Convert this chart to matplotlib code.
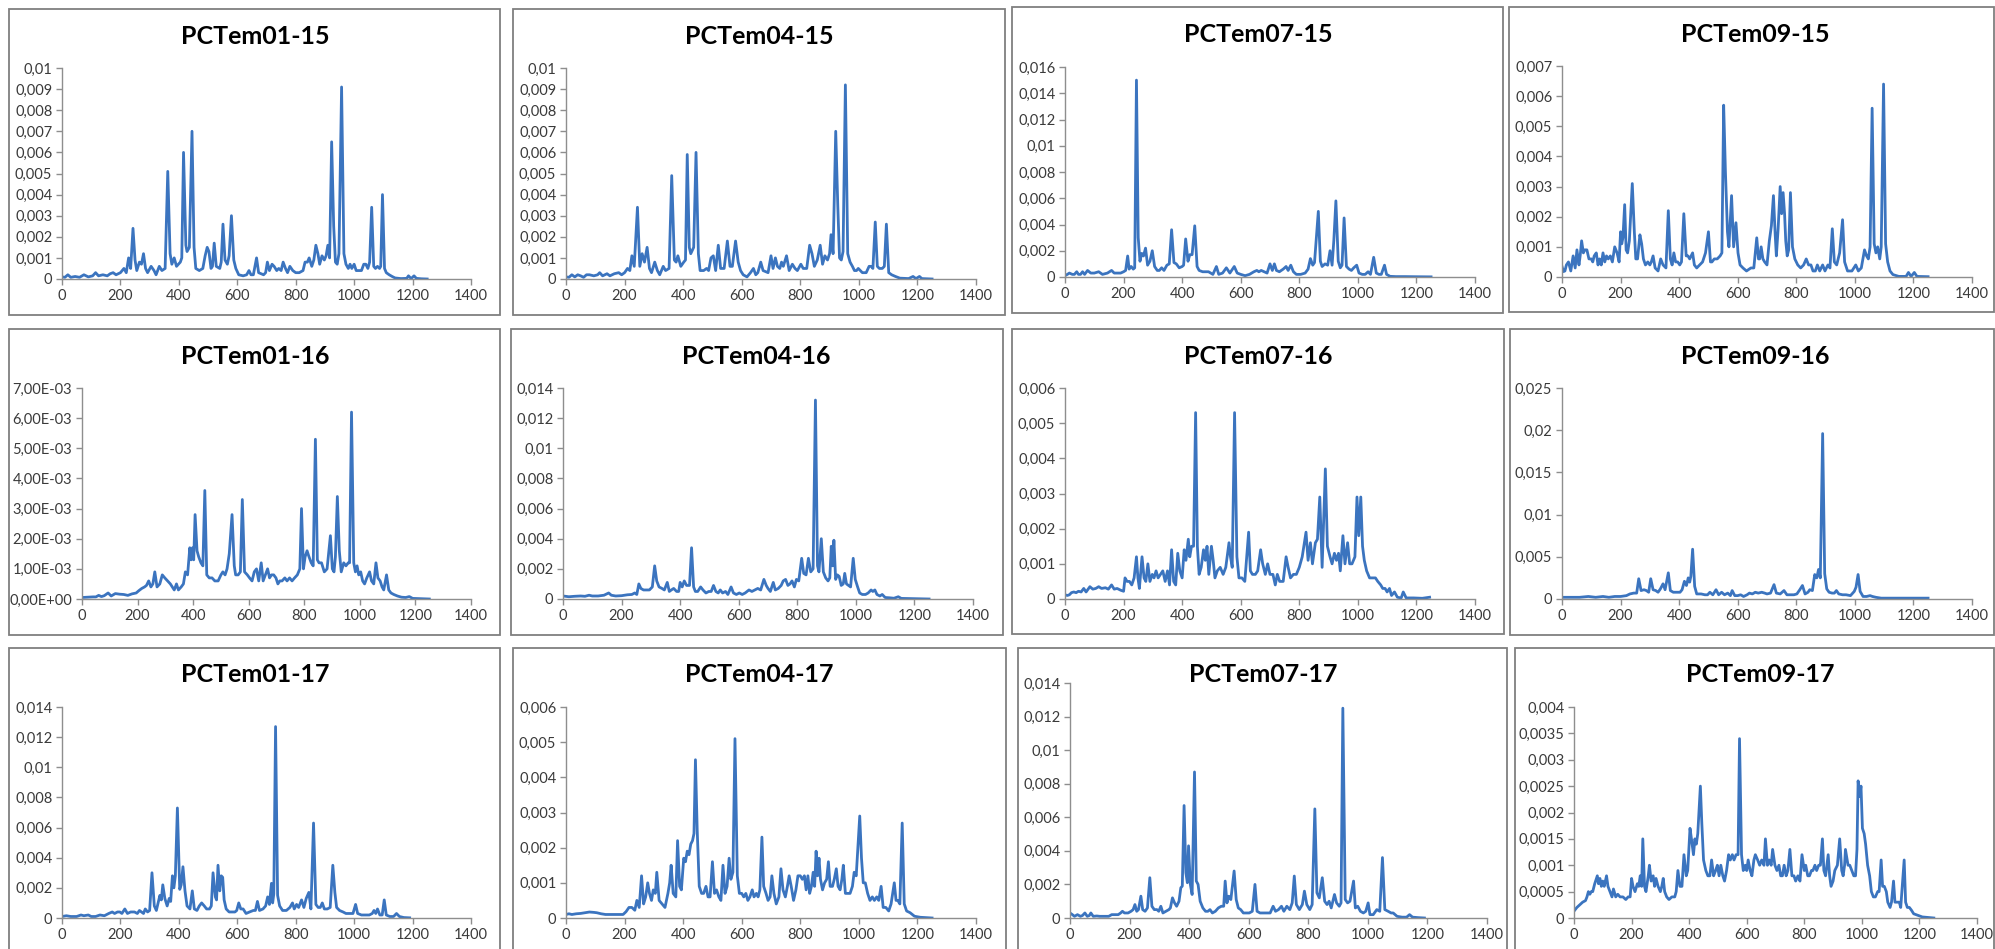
import matplotlib
matplotlib.use("Agg")
import matplotlib.pyplot as plt
from matplotlib.patches import Rectangle

# ---------------- data (x = position, y = intensity) ----------------
titles = ["PCTem01-15", "PCTem04-15", "PCTem07-15", "PCTem09-15",
          "PCTem01-16", "PCTem04-16", "PCTem07-16", "PCTem09-16",
          "PCTem01-17", "PCTem04-17", "PCTem07-17", "PCTem09-17"]

pctem01_15 = [(0,0.0001),(10,0.00008),(20,0.0002),(30,0.00008),(45,0.00012),(60,0.00008),(75,0.0002),(90,0.0001),(105,0.00015),(115,0.0003),(125,0.00015),(140,0.0002),(155,0.00015),(165,0.00025),(175,0.0003),(185,0.0002),(200,0.0003),(212,0.0005),(220,0.0003),(228,0.001),(235,0.0005),(243,0.0024),(250,0.0009),(256,0.0004),(265,0.0008),(272,0.0007),(279,0.0012),(286,0.0005),(293,0.0003),(305,0.0006),(315,0.0004),(322,0.0002),(333,0.0006),(342,0.0004),(353,0.0005),(362,0.0051),(370,0.0012),(376,0.0007),(384,0.001),(392,0.0006),(405,0.0008),(410,0.001),(416,0.006),(424,0.0016),(428,0.0013),(436,0.0015),(445,0.007),(452,0.0015),(458,0.0005),(470,0.0004),(482,0.0005),(490,0.0011),(497,0.0015),(503,0.0013),(510,0.0005),(515,0.0006),(521,0.0017),(528,0.0006),(540,0.0005),(545,0.0008),(551,0.0026),(558,0.0009),(566,0.0007),(572,0.0011),(580,0.003),(588,0.0009),(595,0.0005),(605,0.0002),(620,0.00015),(632,0.0002),(640,0.0004),(647,0.0002),(655,0.0002),(666,0.001),(673,0.0003),(690,0.0002),(697,0.0003),(703,0.0008),(710,0.0004),(719,0.0007),(726,0.0006),(735,0.0004),(742,0.0005),(750,0.0004),(757,0.0008),(765,0.0005),(772,0.0003),(780,0.0006),(790,0.0004),(800,0.0003),(812,0.0003),(825,0.0004),(832,0.0008),(840,0.0008),(846,0.001),(855,0.0006),(862,0.0009),(869,0.0016),(876,0.0012),(882,0.0007),(890,0.0011),(898,0.0009),(904,0.0011),(910,0.0016),(916,0.001),(923,0.0065),(930,0.0025),(936,0.0008),(942,0.0007),(948,0.0012),(957,0.0091),(965,0.0012),(972,0.0007),(980,0.0005),(986,0.0007),(992,0.0005),(1000,0.0007),(1007,0.0004),(1015,0.0004),(1025,0.0004),(1033,0.0007),(1040,0.0007),(1047,0.0005),(1053,0.0008),(1060,0.0034),(1067,0.0006),(1073,0.0005),(1080,0.0006),(1087,0.0005),(1091,0.0006),(1097,0.004),(1104,0.0005),(1110,0.0003),(1120,0.0002),(1130,0.00012),(1140,0.00005),(1160,0.00002),(1180,0.00003),(1186,0.00015),(1195,0.00002),(1205,0.00015),(1213,0.00003),(1230,0.00001),(1250,0.0)]

pctem04_15 = [(0,0.0001),(10,0.00008),(20,0.0002),(30,0.0001),(40,0.0002),(50,0.00015),(60,0.00008),(70,0.0002),(80,0.0002),(95,0.00015),(108,0.0002),(115,0.0003),(125,0.00015),(140,0.00025),(150,0.00015),(165,0.00025),(180,0.0003),(190,0.0002),(200,0.0003),(210,0.0005),(218,0.0004),(225,0.0011),(233,0.0006),(244,0.0034),(252,0.0006),(260,0.0012),(268,0.0008),(277,0.0015),(285,0.0005),(292,0.0003),(303,0.0008),(312,0.0004),(320,0.0002),(332,0.0006),(340,0.0004),(352,0.0005),(361,0.0049),(370,0.0009),(376,0.0008),(382,0.0011),(392,0.0006),(402,0.0008),(408,0.0009),(414,0.0059),(421,0.0015),(426,0.0012),(436,0.0015),(444,0.006),(452,0.0012),(458,0.0004),(470,0.0004),(480,0.0005),(487,0.0004),(495,0.001),(503,0.0011),(511,0.0004),(520,0.0016),(528,0.0005),(540,0.0005),(551,0.0018),(560,0.0006),(568,0.0006),(579,0.0018),(588,0.0008),(596,0.0004),(605,0.0002),(618,0.0001),(630,0.0003),(640,0.0005),(648,0.0002),(655,0.0003),(665,0.0008),(673,0.0004),(690,0.0003),(700,0.0011),(707,0.0005),(715,0.001),(722,0.0006),(730,0.0005),(736,0.0008),(742,0.0006),(753,0.0011),(762,0.0004),(773,0.0007),(782,0.0005),(790,0.0004),(802,0.0007),(810,0.0005),(822,0.0005),(832,0.0016),(840,0.0012),(848,0.0006),(858,0.0009),(868,0.0016),(876,0.0007),(884,0.0011),(893,0.0009),(900,0.0012),(905,0.0021),(912,0.0012),(921,0.007),(928,0.0035),(934,0.001),(940,0.0009),(946,0.0013),(954,0.0092),(962,0.0012),(970,0.0008),(978,0.0006),(985,0.0004),(992,0.0004),(998,0.0005),(1005,0.0004),(1012,0.0003),(1025,0.0003),(1035,0.0006),(1042,0.0006),(1048,0.0005),(1056,0.0027),(1063,0.0006),(1070,0.0005),(1080,0.0005),(1087,0.0006),(1094,0.0026),(1102,0.0003),(1112,0.0002),(1125,0.00012),(1140,0.00004),(1170,0.00002),(1185,0.00012),(1195,0.00002),(1207,0.00012),(1215,0.00002),(1250,0.0)]

pctem07_15 = [(0,0.0001),(8,0.0002),(15,0.0003),(25,0.0002),(32,0.0002),(40,0.0004),(46,0.0002),(53,0.0002),(60,0.0004),(67,0.0002),(77,0.0005),(88,0.0003),(100,0.0003),(115,0.0004),(128,0.0002),(145,0.0003),(159,0.0005),(168,0.0003),(180,0.0003),(190,0.0003),(200,0.0004),(207,0.0005),(214,0.0016),(219,0.0006),(226,0.0008),(233,0.0006),(238,0.0007),(244,0.015),(250,0.003),(256,0.0012),(262,0.0018),(268,0.0016),(275,0.0022),(282,0.0009),(290,0.0012),(298,0.002),(306,0.0008),(315,0.0005),(322,0.0005),(330,0.0007),(338,0.0005),(348,0.0009),(356,0.001),(364,0.0036),(372,0.0011),(380,0.001),(390,0.0007),(400,0.0008),(405,0.0009),(412,0.0029),(420,0.0012),(426,0.0017),(434,0.0017),(443,0.0039),(451,0.0008),(458,0.0005),(470,0.0004),(480,0.0004),(490,0.0004),(505,0.0002),(517,0.0008),(525,0.0002),(538,0.0003),(551,0.0007),(563,0.0003),(578,0.0008),(588,0.0003),(600,0.0002),(615,0.0001),(630,0.0002),(645,0.0004),(655,0.0005),(662,0.0004),(670,0.0005),(680,0.0004),(690,0.0003),(700,0.001),(708,0.0005),(715,0.001),(722,0.0005),(732,0.0004),(745,0.0006),(755,0.0008),(762,0.0005),(771,0.0009),(780,0.0004),(790,0.0002),(805,0.0002),(820,0.0003),(830,0.0006),(838,0.0014),(846,0.0009),(852,0.0011),(865,0.005),(872,0.0012),(878,0.0008),(888,0.001),(897,0.0009),(905,0.002),(912,0.0009),(918,0.0028),(925,0.0058),(933,0.0012),(940,0.0007),(946,0.0009),(953,0.0045),(961,0.0008),(970,0.0006),(978,0.0005),(986,0.0007),(996,0.0009),(1004,0.0003),(1015,0.0002),(1025,0.0002),(1035,0.0004),(1043,0.0002),(1054,0.0015),(1063,0.0003),(1072,0.0002),(1080,0.0002),(1091,0.0009),(1098,0.0002),(1110,0.00005),(1130,0.00003),(1160,0.00003),(1200,0.00002),(1250,0.00001)]

pctem09_15 = [(0,0.00035),(5,0.00018),(10,0.0002),(15,0.0004),(22,0.0005),(30,0.0002),(38,0.0007),(45,0.0003),(51,0.0009),(58,0.0004),(62,0.0007),(67,0.0012),(73,0.0008),(78,0.0009),(85,0.0009),(92,0.0006),(100,0.0006),(105,0.0005),(110,0.0007),(117,0.0008),(123,0.0004),(128,0.0006),(134,0.0004),(140,0.0008),(146,0.0005),(152,0.0007),(158,0.0006),(165,0.0007),(172,0.0005),(180,0.001),(188,0.0008),(195,0.0005),(200,0.0015),(204,0.0011),(208,0.0013),(214,0.0024),(219,0.0009),(224,0.0008),(230,0.0012),(240,0.0031),(247,0.0015),(252,0.0006),(258,0.0006),(266,0.0014),(272,0.0011),(278,0.0006),(285,0.0004),(293,0.0005),(300,0.0004),(305,0.0005),(311,0.0007),(318,0.0003),(328,0.0002),(337,0.0006),(345,0.0004),(355,0.0003),(363,0.0022),(370,0.0006),(376,0.0004),(382,0.0008),(388,0.0005),(395,0.0005),(402,0.0004),(408,0.0005),(416,0.0021),(424,0.0007),(430,0.0007),(436,0.0006),(446,0.0008),(452,0.0004),(460,0.0003),(470,0.0004),(480,0.0005),(490,0.0008),(500,0.0015),(507,0.0005),(512,0.0005),(520,0.0006),(530,0.0006),(540,0.0007),(546,0.0008),(552,0.0057),(558,0.0035),(565,0.0015),(570,0.001),(579,0.0027),(586,0.001),(594,0.0018),(601,0.0008),(608,0.0004),(618,0.0003),(630,0.0002),(645,0.0003),(655,0.0003),(665,0.0013),(671,0.0006),(675,0.0006),(680,0.001),(686,0.0006),(692,0.0005),(700,0.0004),(708,0.0012),(715,0.0017),(722,0.0027),(728,0.0014),(732,0.0007),(738,0.0016),(745,0.003),(750,0.0021),(755,0.0028),(760,0.0021),(764,0.0012),(769,0.0007),(774,0.0009),(780,0.0028),(787,0.001),(795,0.0006),(805,0.0004),(815,0.0003),(825,0.0004),(834,0.0006),(842,0.0004),(850,0.0004),(857,0.0002),(865,0.0002),(872,0.0004),(880,0.0002),(890,0.0004),(898,0.0002),(908,0.0004),(915,0.0003),(923,0.0016),(930,0.0005),(938,0.0004),(948,0.0008),(958,0.0019),(965,0.0005),(975,0.0002),(990,0.0002),(1003,0.0004),(1012,0.0002),(1022,0.0003),(1033,0.0009),(1040,0.0007),(1046,0.0006),(1052,0.001),(1059,0.0056),(1066,0.0011),(1072,0.0008),(1078,0.001),(1085,0.0006),(1090,0.001),(1098,0.0064),(1105,0.0011),(1112,0.0005),(1120,0.0002),(1130,0.00008),(1150,0.00002),(1175,0.00002),(1183,0.00015),(1192,0.00002),(1203,0.00015),(1212,0.00002),(1250,0.00001)]

pctem01_16 = [(0,0.00005),(20,0.00006),(40,0.00007),(50,0.00007),(60,0.00012),(70,0.00008),(80,0.00011),(94,0.0002),(105,0.0001),(120,0.00018),(135,0.00016),(150,0.00015),(165,0.00012),(180,0.00017),(195,0.0002),(205,0.00028),(215,0.00035),(225,0.0004),(232,0.00045),(240,0.0006),(248,0.0004),(255,0.0005),(262,0.0009),(270,0.0004),(280,0.0005),(289,0.0008),(298,0.0007),(308,0.0006),(318,0.0005),(325,0.0004),(332,0.0003),(340,0.0005),(347,0.0003),(357,0.0004),(365,0.0005),(372,0.0009),(380,0.0008),(388,0.0017),(393,0.0013),(398,0.0017),(402,0.0013),(407,0.0028),(414,0.0016),(420,0.0014),(428,0.0012),(435,0.0011),(442,0.0036),(449,0.0008),(458,0.0007),(468,0.0007),(478,0.0006),(490,0.0006),(500,0.0008),(507,0.0009),(515,0.0008),(522,0.001),(530,0.0015),(540,0.0028),(548,0.0011),(553,0.0008),(562,0.0008),(570,0.0009),(577,0.0033),(585,0.0009),(595,0.0008),(603,0.0007),(612,0.0006),(620,0.0009),(628,0.001),(636,0.0006),(645,0.0012),(652,0.0006),(660,0.0008),(668,0.001),(675,0.0007),(682,0.0008),(690,0.0008),(698,0.0007),(705,0.0005),(712,0.0006),(720,0.0006),(730,0.0007),(738,0.0006),(747,0.0007),(756,0.0006),(765,0.0007),(775,0.0008),(784,0.001),(790,0.003),(797,0.001),(803,0.0014),(810,0.0016),(817,0.0014),(825,0.0012),(832,0.0011),(840,0.0053),(847,0.0013),(853,0.0012),(862,0.0012),(872,0.0009),(882,0.001),(894,0.0021),(901,0.001),(907,0.0009),(912,0.0014),(919,0.0034),(926,0.0016),(933,0.0009),(942,0.0012),(950,0.0011),(958,0.0012),(963,0.0012),(970,0.0062),(978,0.0012),(984,0.0009),(990,0.0011),(996,0.0008),(1003,0.0009),(1010,0.0006),(1017,0.0005),(1025,0.0007),(1035,0.0009),(1042,0.0006),(1050,0.0005),(1058,0.0012),(1065,0.0007),(1073,0.0006),(1080,0.0004),(1086,0.0003),(1096,0.0008),(1104,0.0003),(1112,0.0002),(1122,0.00015),(1135,0.0001),(1150,0.00006),(1165,0.00005),(1178,0.00008),(1190,0.00002),(1220,0.00001),(1250,0.0)]

pctem04_16 = [(0,0.0002),(20,0.00015),(40,0.00018),(60,0.0002),(75,0.00018),(89,0.00025),(100,0.0002),(120,0.0002),(140,0.00025),(156,0.0004),(165,0.00025),(180,0.0002),(200,0.00022),(220,0.00028),(235,0.0003),(245,0.0004),(252,0.0003),(259,0.001),(266,0.0007),(275,0.0006),(285,0.0006),(295,0.0006),(305,0.0008),(313,0.0022),(320,0.0012),(328,0.0008),(338,0.0007),(346,0.0006),(356,0.0011),(363,0.0005),(370,0.0006),(378,0.0007),(388,0.0005),(395,0.0005),(400,0.0011),(407,0.0008),(414,0.0012),(422,0.0009),(432,0.0009),(439,0.0034),(446,0.0008),(452,0.0005),(460,0.0005),(470,0.0008),(478,0.0006),(488,0.0004),(498,0.0005),(506,0.0005),(514,0.0009),(522,0.0005),(530,0.0004),(537,0.0006),(545,0.0004),(555,0.0005),(563,0.0003),(574,0.0008),(582,0.0004),(592,0.0003),(602,0.0004),(612,0.0003),(622,0.0004),(635,0.0006),(645,0.0005),(655,0.0006),(665,0.0007),(675,0.0006),(686,0.0013),(694,0.0009),(700,0.0007),(708,0.0005),(718,0.0011),(725,0.0006),(735,0.0007),(745,0.0009),(752,0.0012),(760,0.0013),(768,0.0009),(775,0.001),(782,0.0012),(790,0.0008),(797,0.0013),(805,0.0012),(815,0.0027),(822,0.0017),(830,0.0016),(838,0.0027),(846,0.0018),(854,0.002),(862,0.0132),(869,0.0022),(874,0.0018),(882,0.004),(889,0.0018),(897,0.0014),(905,0.0012),(911,0.0014),(916,0.0035),(921,0.0022),(925,0.0039),(931,0.0013),(937,0.0016),(943,0.0015),(950,0.0009),(957,0.001),(962,0.0017),(968,0.001),(975,0.0009),(982,0.0008),(991,0.0027),(998,0.0013),(1006,0.0008),(1013,0.0004),(1022,0.0003),(1033,0.0003),(1042,0.0004),(1052,0.0006),(1058,0.0005),(1065,0.0006),(1072,0.0003),(1082,0.0002),(1090,0.0003),(1100,0.0001),(1115,0.00008),(1130,0.00005),(1145,0.00015),(1155,0.00004),(1180,0.00003),(1210,0.00002),(1250,0.0)]

pctem07_16 = [(0,0.00012),(8,0.0001),(15,0.00012),(22,0.00018),(30,0.0002),(38,0.00018),(46,0.00022),(55,0.0002),(64,0.0003),(72,0.0002),(85,0.00035),(95,0.00028),(105,0.0003),(115,0.00035),(125,0.0003),(138,0.00032),(148,0.00028),(159,0.0004),(168,0.00028),(178,0.0003),(190,0.00025),(200,0.00022),(205,0.0006),(212,0.0005),(220,0.0005),(228,0.0004),(236,0.0006),(244,0.0012),(249,0.0006),(254,0.0003),(263,0.0012),(270,0.0006),(276,0.0005),(283,0.001),(290,0.0005),(298,0.0007),(304,0.0006),(311,0.0008),(318,0.0006),(326,0.0007),(334,0.0008),(342,0.0005),(350,0.0008),(357,0.0004),(364,0.0014),(371,0.0005),(378,0.0004),(385,0.0013),(392,0.0008),(400,0.0006),(407,0.0014),(413,0.0011),(421,0.0017),(426,0.0012),(432,0.0015),(439,0.0015),(446,0.0053),(452,0.0015),(458,0.0007),(465,0.0009),(473,0.0014),(479,0.0011),(485,0.0015),(491,0.0007),(500,0.0015),(506,0.0011),(512,0.0006),(520,0.0008),(530,0.0009),(540,0.0007),(549,0.0009),(560,0.0016),(565,0.0012),(571,0.0009),(579,0.0053),(587,0.0012),(594,0.0006),(604,0.0006),(614,0.0005),(627,0.0019),(633,0.0008),(640,0.0007),(650,0.0007),(658,0.0008),(668,0.0014),(675,0.001),(684,0.0007),(692,0.001),(700,0.0007),(710,0.0007),(718,0.0004),(725,0.0007),(733,0.0005),(745,0.0005),(755,0.0012),(762,0.0009),(770,0.0006),(780,0.0007),(790,0.0007),(800,0.0009),(810,0.0012),(823,0.0019),(830,0.0011),(838,0.0016),(845,0.001),(855,0.0016),(862,0.0017),(870,0.0029),(878,0.0009),(889,0.0037),(896,0.0015),(905,0.0012),(912,0.001),(920,0.0013),(927,0.0011),(934,0.0013),(940,0.0008),(949,0.0018),(956,0.001),(965,0.0016),(972,0.001),(980,0.001),(990,0.0012),(997,0.0029),(1003,0.0018),(1010,0.0029),(1016,0.0015),(1022,0.0011),(1030,0.0008),(1040,0.0006),(1050,0.0006),(1060,0.0006),(1068,0.0005),(1078,0.0004),(1085,0.0003),(1093,0.0003),(1100,0.0002),(1108,0.0003),(1115,0.0001),(1125,0.0002),(1135,0.00005),(1148,0.00003),(1155,0.0002),(1165,0.00003),(1190,0.00003),(1220,0.00002),(1245,0.00005)]

pctem09_16 = [(0,0.0002),(30,0.0002),(60,0.0002),(90,0.0003),(115,0.0002),(140,0.0003),(160,0.0002),(180,0.0003),(200,0.0003),(220,0.0004),(232,0.0006),(245,0.0007),(255,0.0007),(262,0.0024),(270,0.001),(280,0.0011),(288,0.001),(296,0.0008),(303,0.0024),(311,0.0011),(320,0.001),(328,0.0008),(336,0.0012),(345,0.0018),(352,0.0011),(363,0.0031),(370,0.001),(380,0.0008),(392,0.0008),(403,0.0008),(410,0.0011),(418,0.0021),(425,0.0016),(431,0.0025),(436,0.002),(440,0.0027),(446,0.0059),(453,0.0015),(460,0.0006),(475,0.0006),(488,0.0005),(497,0.0005),(505,0.0008),(515,0.0005),(526,0.0011),(535,0.0005),(545,0.0008),(555,0.0005),(566,0.0007),(575,0.0004),(581,0.001),(590,0.0004),(600,0.0004),(610,0.0005),(620,0.0003),(632,0.0005),(640,0.0007),(650,0.0006),(660,0.0008),(670,0.0007),(682,0.0008),(692,0.0007),(700,0.0006),(712,0.0007),(724,0.0017),(732,0.0007),(745,0.0006),(758,0.001),(768,0.0005),(780,0.0005),(792,0.0005),(802,0.0006),(812,0.0011),(821,0.0016),(830,0.0006),(840,0.0008),(846,0.0011),(855,0.001),(863,0.0029),(870,0.0025),(876,0.0035),(882,0.0025),(890,0.0196),(897,0.003),(904,0.0012),(912,0.0008),(922,0.0007),(930,0.0007),(937,0.001),(945,0.0006),(958,0.0005),(970,0.0005),(985,0.0004),(998,0.0009),(1004,0.0014),(1011,0.0029),(1018,0.0009),(1028,0.0003),(1040,0.0003),(1052,0.0004),(1060,0.0003),(1072,0.0002),(1090,0.0001),(1120,0.0001),(1160,0.0001),(1200,0.0001),(1250,0.0001)]

pctem01_17 = [(0,0.0001),(15,0.00015),(30,0.0001),(50,0.0001),(65,0.0002),(75,0.00015),(90,0.0002),(100,0.0001),(115,0.0001),(130,0.0002),(145,0.00015),(160,0.0003),(172,0.0004),(180,0.0003),(190,0.0004),(198,0.0004),(205,0.0003),(215,0.0006),(224,0.0003),(235,0.0004),(248,0.0004),(258,0.0003),(265,0.0005),(272,0.0004),(279,0.0003),(285,0.0006),(293,0.0004),(300,0.0005),(308,0.003),(316,0.0008),(323,0.0005),(330,0.0011),(335,0.0015),(340,0.0012),(345,0.0022),(352,0.0013),(360,0.0008),(367,0.0013),(372,0.0011),(378,0.0028),(383,0.002),(388,0.0028),(395,0.0073),(403,0.0019),(408,0.0022),(414,0.0034),(421,0.0018),(428,0.0008),(438,0.0006),(446,0.0018),(453,0.0006),(462,0.0005),(470,0.0008),(478,0.001),(487,0.0008),(495,0.0006),(505,0.0006),(511,0.0008),(517,0.003),(525,0.0014),(529,0.0012),(534,0.0035),(540,0.0018),(545,0.0028),(550,0.0027),(555,0.0012),(562,0.0006),(572,0.0004),(582,0.0004),(592,0.0004),(598,0.0005),(605,0.001),(612,0.0006),(620,0.0006),(630,0.0003),(642,0.0004),(655,0.0005),(662,0.0005),(669,0.0011),(676,0.0005),(688,0.0006),(697,0.0008),(704,0.0014),(710,0.0009),(717,0.0023),(721,0.001),(725,0.0016),(731,0.0127),(738,0.0015),(745,0.0008),(755,0.0005),(768,0.0005),(780,0.0007),(789,0.001),(795,0.0006),(803,0.0009),(810,0.0007),(820,0.0012),(828,0.0007),(836,0.0013),(845,0.0017),(852,0.0006),(861,0.0063),(869,0.0009),(877,0.0007),(884,0.0007),(891,0.001),(898,0.0006),(908,0.0006),(918,0.0007),(927,0.0035),(934,0.0017),(940,0.0007),(950,0.0005),(962,0.0004),(972,0.0003),(985,0.0003),(996,0.0003),(1005,0.0009),(1012,0.0003),(1025,0.0002),(1040,0.0002),(1052,0.0002),(1062,0.0003),(1068,0.0005),(1074,0.0003),(1080,0.0006),(1088,0.0002),(1096,0.0002),(1103,0.0012),(1110,0.0002),(1122,0.0001),(1135,0.0001),(1145,0.0003),(1155,0.0001),(1170,0.00003),(1190,0.00001)]

pctem04_17 = [(0,0.0001),(10,0.00012),(20,0.0001),(35,0.00012),(50,0.00013),(65,0.00015),(80,0.00017),(95,0.00016),(105,0.00015),(120,0.00012),(135,0.0001),(150,0.0001),(165,0.0001),(180,0.0001),(195,0.0001),(205,0.00018),(215,0.0003),(225,0.0003),(235,0.00022),(242,0.0005),(250,0.0003),(258,0.0012),(265,0.0004),(272,0.0006),(279,0.001),(285,0.0007),(292,0.0005),(298,0.0008),(305,0.0007),(310,0.0013),(318,0.0005),(328,0.0004),(338,0.0003),(348,0.0007),(354,0.001),(359,0.0015),(366,0.0007),(375,0.0006),(381,0.0022),(388,0.0009),(394,0.0008),(402,0.0017),(408,0.0016),(414,0.0019),(420,0.0018),(426,0.0021),(432,0.0022),(437,0.0024),(442,0.0045),(448,0.0025),(455,0.0009),(463,0.0007),(470,0.0007),(478,0.0009),(485,0.0006),(492,0.0006),(500,0.0016),(507,0.0007),(514,0.0008),(522,0.0006),(529,0.0005),(536,0.0015),(543,0.0007),(550,0.0009),(557,0.0017),(563,0.0011),(570,0.0013),(577,0.0051),(585,0.0012),(592,0.0007),(600,0.0007),(607,0.0006),(614,0.0007),(621,0.0005),(628,0.0006),(636,0.0008),(642,0.0006),(650,0.0007),(656,0.0006),(662,0.0008),(669,0.0023),(675,0.0009),(683,0.0007),(690,0.0005),(697,0.0006),(703,0.0012),(710,0.0007),(718,0.0004),(727,0.0006),(734,0.0014),(741,0.0008),(749,0.0006),(756,0.0009),(762,0.0012),(769,0.0009),(777,0.0005),(785,0.0008),(792,0.0012),(800,0.0012),(807,0.0011),(814,0.0012),(820,0.0008),(826,0.0012),(832,0.0007),(838,0.0009),(844,0.0013),(849,0.0009),(854,0.0019),(859,0.0012),(864,0.0017),(869,0.0011),(876,0.0008),(883,0.001),(890,0.0011),(896,0.0016),(902,0.0009),(910,0.0009),(916,0.0011),(923,0.0014),(929,0.0009),(936,0.0008),(942,0.0011),(947,0.0015),(954,0.0007),(962,0.0007),(970,0.0007),(978,0.0009),(984,0.0013),(991,0.0012),(1003,0.0029),(1009,0.0017),(1015,0.001),(1022,0.001),(1030,0.0007),(1038,0.0005),(1046,0.0006),(1053,0.0005),(1061,0.0006),(1068,0.0005),(1076,0.0009),(1083,0.0003),(1092,0.0003),(1102,0.0002),(1110,0.0004),(1121,0.001),(1127,0.0005),(1133,0.0005),(1140,0.0004),(1148,0.0027),(1155,0.0004),(1163,0.0002),(1175,0.00015),(1190,0.00005),(1210,0.00002),(1250,0.0)]

pctem07_17 = [(0,0.0003),(8,0.0002),(15,0.0001),(25,0.0002),(35,0.0001),(42,0.00015),(50,0.0003),(58,0.0001),(65,0.00015),(70,0.0003),(78,0.0001),(90,0.00012),(100,0.0001),(115,0.0001),(130,0.0001),(140,0.0002),(152,0.0002),(162,0.0002),(170,0.0003),(176,0.0004),(183,0.0003),(195,0.0003),(205,0.0004),(212,0.0005),(218,0.0008),(224,0.0004),(230,0.0005),(238,0.0013),(244,0.0005),(252,0.0004),(260,0.0006),(268,0.0024),(275,0.0007),(283,0.0005),(292,0.0005),(298,0.0004),(305,0.0007),(312,0.0003),(322,0.0004),(332,0.0005),(337,0.0006),(344,0.0012),(351,0.0009),(358,0.0007),(366,0.001),(372,0.0018),(377,0.0019),(383,0.0067),(389,0.0027),(394,0.0021),(398,0.0043),(404,0.002),(410,0.0014),(418,0.0087),(424,0.0022),(430,0.002),(437,0.001),(446,0.0006),(455,0.0004),(463,0.0004),(470,0.0005),(478,0.0003),(488,0.0004),(498,0.0006),(508,0.0007),(516,0.0007),(521,0.0022),(527,0.0009),(533,0.0013),(540,0.0011),(551,0.0028),(558,0.0011),(565,0.0006),(573,0.0005),(582,0.0003),(592,0.0003),(602,0.0003),(612,0.0004),(621,0.002),(628,0.0004),(638,0.0003),(650,0.0003),(662,0.0003),(672,0.0003),(682,0.0007),(690,0.0004),(700,0.0005),(710,0.0007),(718,0.0004),(728,0.0007),(738,0.0005),(746,0.0009),(753,0.0025),(760,0.0008),(770,0.0005),(780,0.0008),(787,0.0016),(795,0.0008),(805,0.0005),(813,0.0008),(822,0.0065),(829,0.0015),(837,0.0012),(842,0.0018),(847,0.0024),(855,0.001),(863,0.0008),(870,0.001),(877,0.0006),(888,0.0014),(895,0.0009),(904,0.0007),(910,0.0009),(916,0.0125),(924,0.0011),(932,0.0009),(940,0.001),(952,0.0022),(958,0.0006),(966,0.0007),(975,0.0004),(985,0.0003),(993,0.0004),(1001,0.0009),(1007,0.0002),(1018,0.0002),(1030,0.0005),(1040,0.0004),(1049,0.0036),(1057,0.0005),(1068,0.0004),(1078,0.0003),(1085,0.0003),(1098,0.0001),(1115,0.00005),(1130,0.00005),(1140,0.0002),(1150,0.00005),(1170,0.00002),(1190,0.0)]

pctem09_17 = [(0,0.00013),(10,0.0002),(20,0.00025),(30,0.0003),(40,0.00033),(45,0.0004),(50,0.0005),(55,0.00045),(60,0.0005),(65,0.0005),(72,0.00065),(81,0.0008),(85,0.00065),(90,0.00075),(95,0.0006),(100,0.0007),(105,0.0006),(113,0.0008),(118,0.0006),(125,0.0005),(132,0.0004),(137,0.00055),(145,0.0004),(152,0.00045),(160,0.0004),(170,0.0004),(180,0.00035),(188,0.0004),(195,0.0004),(200,0.00075),(205,0.0006),(212,0.0005),(220,0.00065),(225,0.0006),(230,0.0008),(235,0.0006),(239,0.0015),(245,0.0006),(250,0.0005),(258,0.0008),(262,0.001),(268,0.0007),(275,0.0008),(280,0.0006),(285,0.00075),(292,0.0006),(300,0.0005),(305,0.0006),(310,0.00075),(315,0.0005),(322,0.0004),(330,0.00035),(340,0.0004),(350,0.0004),(355,0.0005),(361,0.0009),(368,0.0006),(375,0.0006),(382,0.0012),(390,0.0008),(395,0.0009),(403,0.0017),(408,0.0015),(415,0.0012),(420,0.0015),(425,0.0014),(430,0.0016),(439,0.0025),(444,0.0018),(450,0.0011),(458,0.0009),(465,0.0008),(472,0.0008),(478,0.0011),(485,0.0008),(492,0.0009),(498,0.001),(504,0.0008),(510,0.001),(517,0.0008),(523,0.0007),(530,0.0009),(537,0.0012),(543,0.0011),(550,0.0012),(556,0.0011),(563,0.0012),(570,0.0012),(575,0.0034),(582,0.0012),(588,0.0009),(595,0.001),(600,0.0009),(605,0.0011),(612,0.0009),(618,0.0008),(625,0.0011),(630,0.0012),(638,0.0011),(645,0.001),(652,0.0011),(660,0.001),(665,0.0015),(672,0.001),(678,0.0011),(685,0.001),(690,0.0013),(698,0.001),(705,0.0009),(712,0.001),(718,0.0008),(724,0.0008),(730,0.001),(737,0.0008),(743,0.0009),(750,0.0013),(757,0.0008),(764,0.0008),(770,0.0007),(778,0.0008),(785,0.0007),(792,0.0012),(800,0.0009),(805,0.001),(812,0.0008),(818,0.0008),(825,0.0009),(830,0.0009),(837,0.001),(843,0.0009),(850,0.001),(856,0.001),(863,0.0015),(868,0.0009),(874,0.0008),(883,0.0012),(888,0.0008),(893,0.0006),(900,0.0007),(906,0.0009),(915,0.001),(923,0.0015),(930,0.0009),(935,0.0008),(940,0.001),(943,0.0013),(952,0.001),(958,0.001),(965,0.0009),(972,0.0008),(978,0.0008),(983,0.0013),(987,0.0026),(992,0.0023),(997,0.0025),(1002,0.0017),(1008,0.0016),(1013,0.0014),(1020,0.001),(1027,0.0008),(1033,0.0005),(1040,0.0004),(1047,0.0004),(1055,0.0005),(1060,0.0005),(1067,0.0011),(1072,0.0006),(1078,0.0006),(1085,0.0005),(1090,0.0003),(1098,0.0002),(1103,0.0003),(1110,0.0007),(1115,0.0003),(1122,0.0003),(1130,0.0003),(1135,0.0002),(1147,0.0011),(1152,0.0003),(1158,0.0002),(1165,0.0002),(1172,0.00015),(1180,0.00008),(1195,0.00005),(1210,0.00002),(1250,0.0)]

series = [pctem01_15, pctem04_15, pctem07_15, pctem09_15,
          pctem01_16, pctem04_16, pctem07_16, pctem09_16,
          pctem01_17, pctem04_17, pctem07_17, pctem09_17]

y_max = [0.01, 0.01, 0.016, 0.007, 0.007, 0.014, 0.006, 0.025, 0.014, 0.006, 0.014, 0.004]
y_step = [0.001, 0.001, 0.002, 0.001, 0.001, 0.002, 0.001, 0.005, 0.002, 0.001, 0.002, 0.0005]
sci_format = [False, False, False, False, True, False, False, False, False, False, False, False]
x_ticks = [0, 200, 400, 600, 800, 1000, 1200, 1400]

# ---------------- layout (pixel geometry of the 1995x949 image) ----------------
W, H = 1995, 949
plot_px = [(62, 471, 279, 68), (566, 976, 279, 68), (1065, 1475, 277, 67), (1562, 1972, 277, 66),
           (82, 471, 599, 388), (563, 973, 599, 388), (1065, 1475, 599, 388), (1562, 1972, 599, 388),
           (62, 471, 918, 707), (566, 976, 918, 707), (1070, 1487, 918, 683), (1574, 1977, 918, 707)]
title_px = [(255, 36), (759, 36), (1258, 35), (1755, 35),
            (255, 356), (756, 356), (1258, 356), (1755, 356),
            (255, 675), (759, 675), (1263, 675), (1760, 675)]
box_px = [(9, 9, 500, 315), (513, 9, 1005, 315), (1012, 7, 1503, 313), (1509, 7, 1994, 312),
          (9, 329, 500, 635), (511, 329, 1003, 635), (1012, 329, 1504, 634), (1510, 329, 1994, 635),
          (9, 648, 500, 980), (513, 648, 1006, 980), (1018, 648, 1507, 980), (1515, 648, 1994, 980)]

LINE = "#3B74BF"
AXC = "#8E8E8E"
TXT = "#3a3a3a"
plt.rcParams['font.family'] = ['Lato', 'DejaVu Sans']

fig = plt.figure(figsize=(W / 100, H / 100), dpi=100)
fig.patch.set_facecolor("white")

for i in range(12):
    bx0, by0, bx1, by1 = box_px[i]
    fig.patches.append(Rectangle((bx0 / W, 1 - by1 / H), (bx1 - bx0) / W, (by1 - by0) / H,
                                 transform=fig.transFigure, fill=False,
                                 edgecolor="#7f7f7f", linewidth=1.3, zorder=0))

    x0, x1, yb, yt = plot_px[i]
    ax = fig.add_axes([x0 / W, 1 - yb / H, (x1 - x0) / W, (yb - yt) / H])
    xs = [p[0] for p in series[i]]
    ys = [p[1] for p in series[i]]
    ax.plot(xs, ys, color=LINE, linewidth=2.0, solid_joinstyle='round')
    ax.set_xlim(0, 1400)
    ax.set_ylim(0, y_max[i])
    n = int(round(y_max[i] / y_step[i]))
    yt_vals = [round(k * y_step[i], 6) for k in range(n + 1)]
    if sci_format[i]:
        labels = [f"{v:.2E}".replace('.', ',') for v in yt_vals]
    else:
        labels = [f"{v:g}".replace('.', ',') for v in yt_vals]
    ax.set_yticks(yt_vals)
    ax.set_yticklabels(labels)
    ax.set_xticks(x_ticks)
    ax.set_xticklabels([str(v) for v in x_ticks])
    for s in ("top", "right"):
        ax.spines[s].set_visible(False)
    for s in ("left", "bottom"):
        ax.spines[s].set_color(AXC)
        ax.spines[s].set_linewidth(1.0)
    ax.tick_params(direction="out", length=4, width=1.0, color=AXC,
                   labelsize=10.5, labelcolor=TXT, pad=3)
    ax.patch.set_alpha(0)

    tx, ty = title_px[i]
    fig.text(tx / W, 1 - ty / H, titles[i], ha="center", va="center",
             fontsize=18, fontweight="bold", color="black")

fig.savefig("out.png", dpi=100)
